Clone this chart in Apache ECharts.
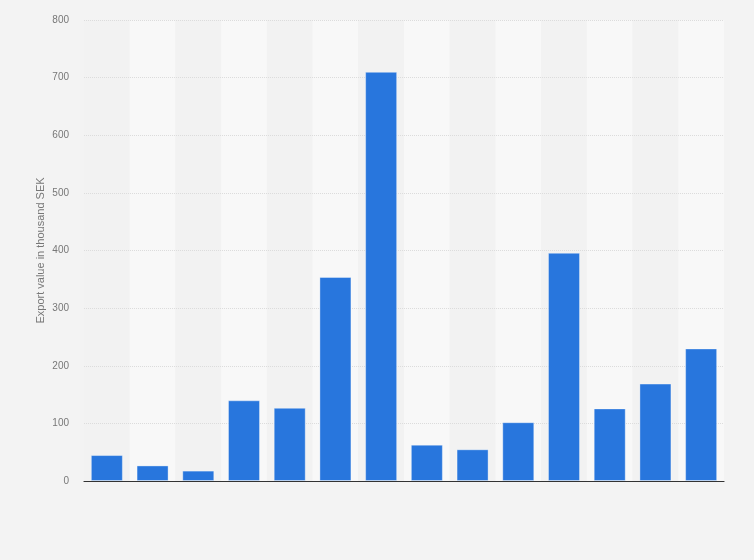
<!DOCTYPE html>
<html>
<head>
<meta charset="utf-8">
<script src="https://cdn.jsdelivr.net/npm/echarts@6/dist/echarts.min.js"></script>
<style>
html, body { margin: 0; padding: 0; background: #f3f3f3; }
#chart { width: 754px; height: 560px; }
</style>
</head>
<body>
<div id="chart"></div>
<script>
// 类目（原图无标签）
let categories = ['1', '2', '3', '4', '5', '6', '7', '8', '9', '10', '11', '12', '13', '14'];
// 出口额（千瑞典克朗）
let exportValues = [45, 27, 18, 140, 127, 354, 710, 63, 55, 102, 396, 126, 169, 230];
let yTicks = [0, 100, 200, 300, 400, 500, 600, 700, 800];

let chart = echarts.init(document.getElementById('chart'));
let option = {
    backgroundColor: '#f3f3f3',
    animation: false,
    grid: {
        left: 84,
        right: 30,
        top: 20,
        bottom: 79
    },
    xAxis: {
        type: 'category',
        data: categories,
        z: 0,
        axisLabel: { show: false },
        axisTick: { show: false },
        axisLine: {
            lineStyle: { color: '#333', width: 1.2 }
        },
        splitArea: {
            show: true,
            areaStyle: { color: ['#f2f2f2', '#f8f8f8'] }
        }
    },
    yAxis: {
        type: 'value',
        z: 1,
        min: yTicks[0],
        max: yTicks[yTicks.length - 1],
        interval: 100,
        name: 'Export value in thousand SEK',
        nameLocation: 'middle',
        nameGap: 38,
        nameMoveOverlap: false,
        nameTextStyle: {
            color: '#777',
            fontSize: 11,
            fontFamily: 'Liberation Sans, Arial'
        },
        axisLabel: {
            color: '#777',
            fontSize: 10,
            margin: 15,
            fontFamily: 'Liberation Sans, Arial'
        },
        axisLine: { show: false },
        axisTick: { show: false },
        splitLine: {
            show: true,
            showMinLine: false,
            lineStyle: { color: '#dcdcdc', type: 'dotted' }
        }
    },
    series: [{
        name: 'Export value',
        type: 'bar',
        data: exportValues,
        barWidth: '70%',
        z: 3,
        itemStyle: {
            color: '#2876dd',
            borderColor: 'rgba(255,255,255,0.35)',
            borderWidth: 1
        }
    }]
};
chart.setOption(option);
</script>
</body>
</html>
